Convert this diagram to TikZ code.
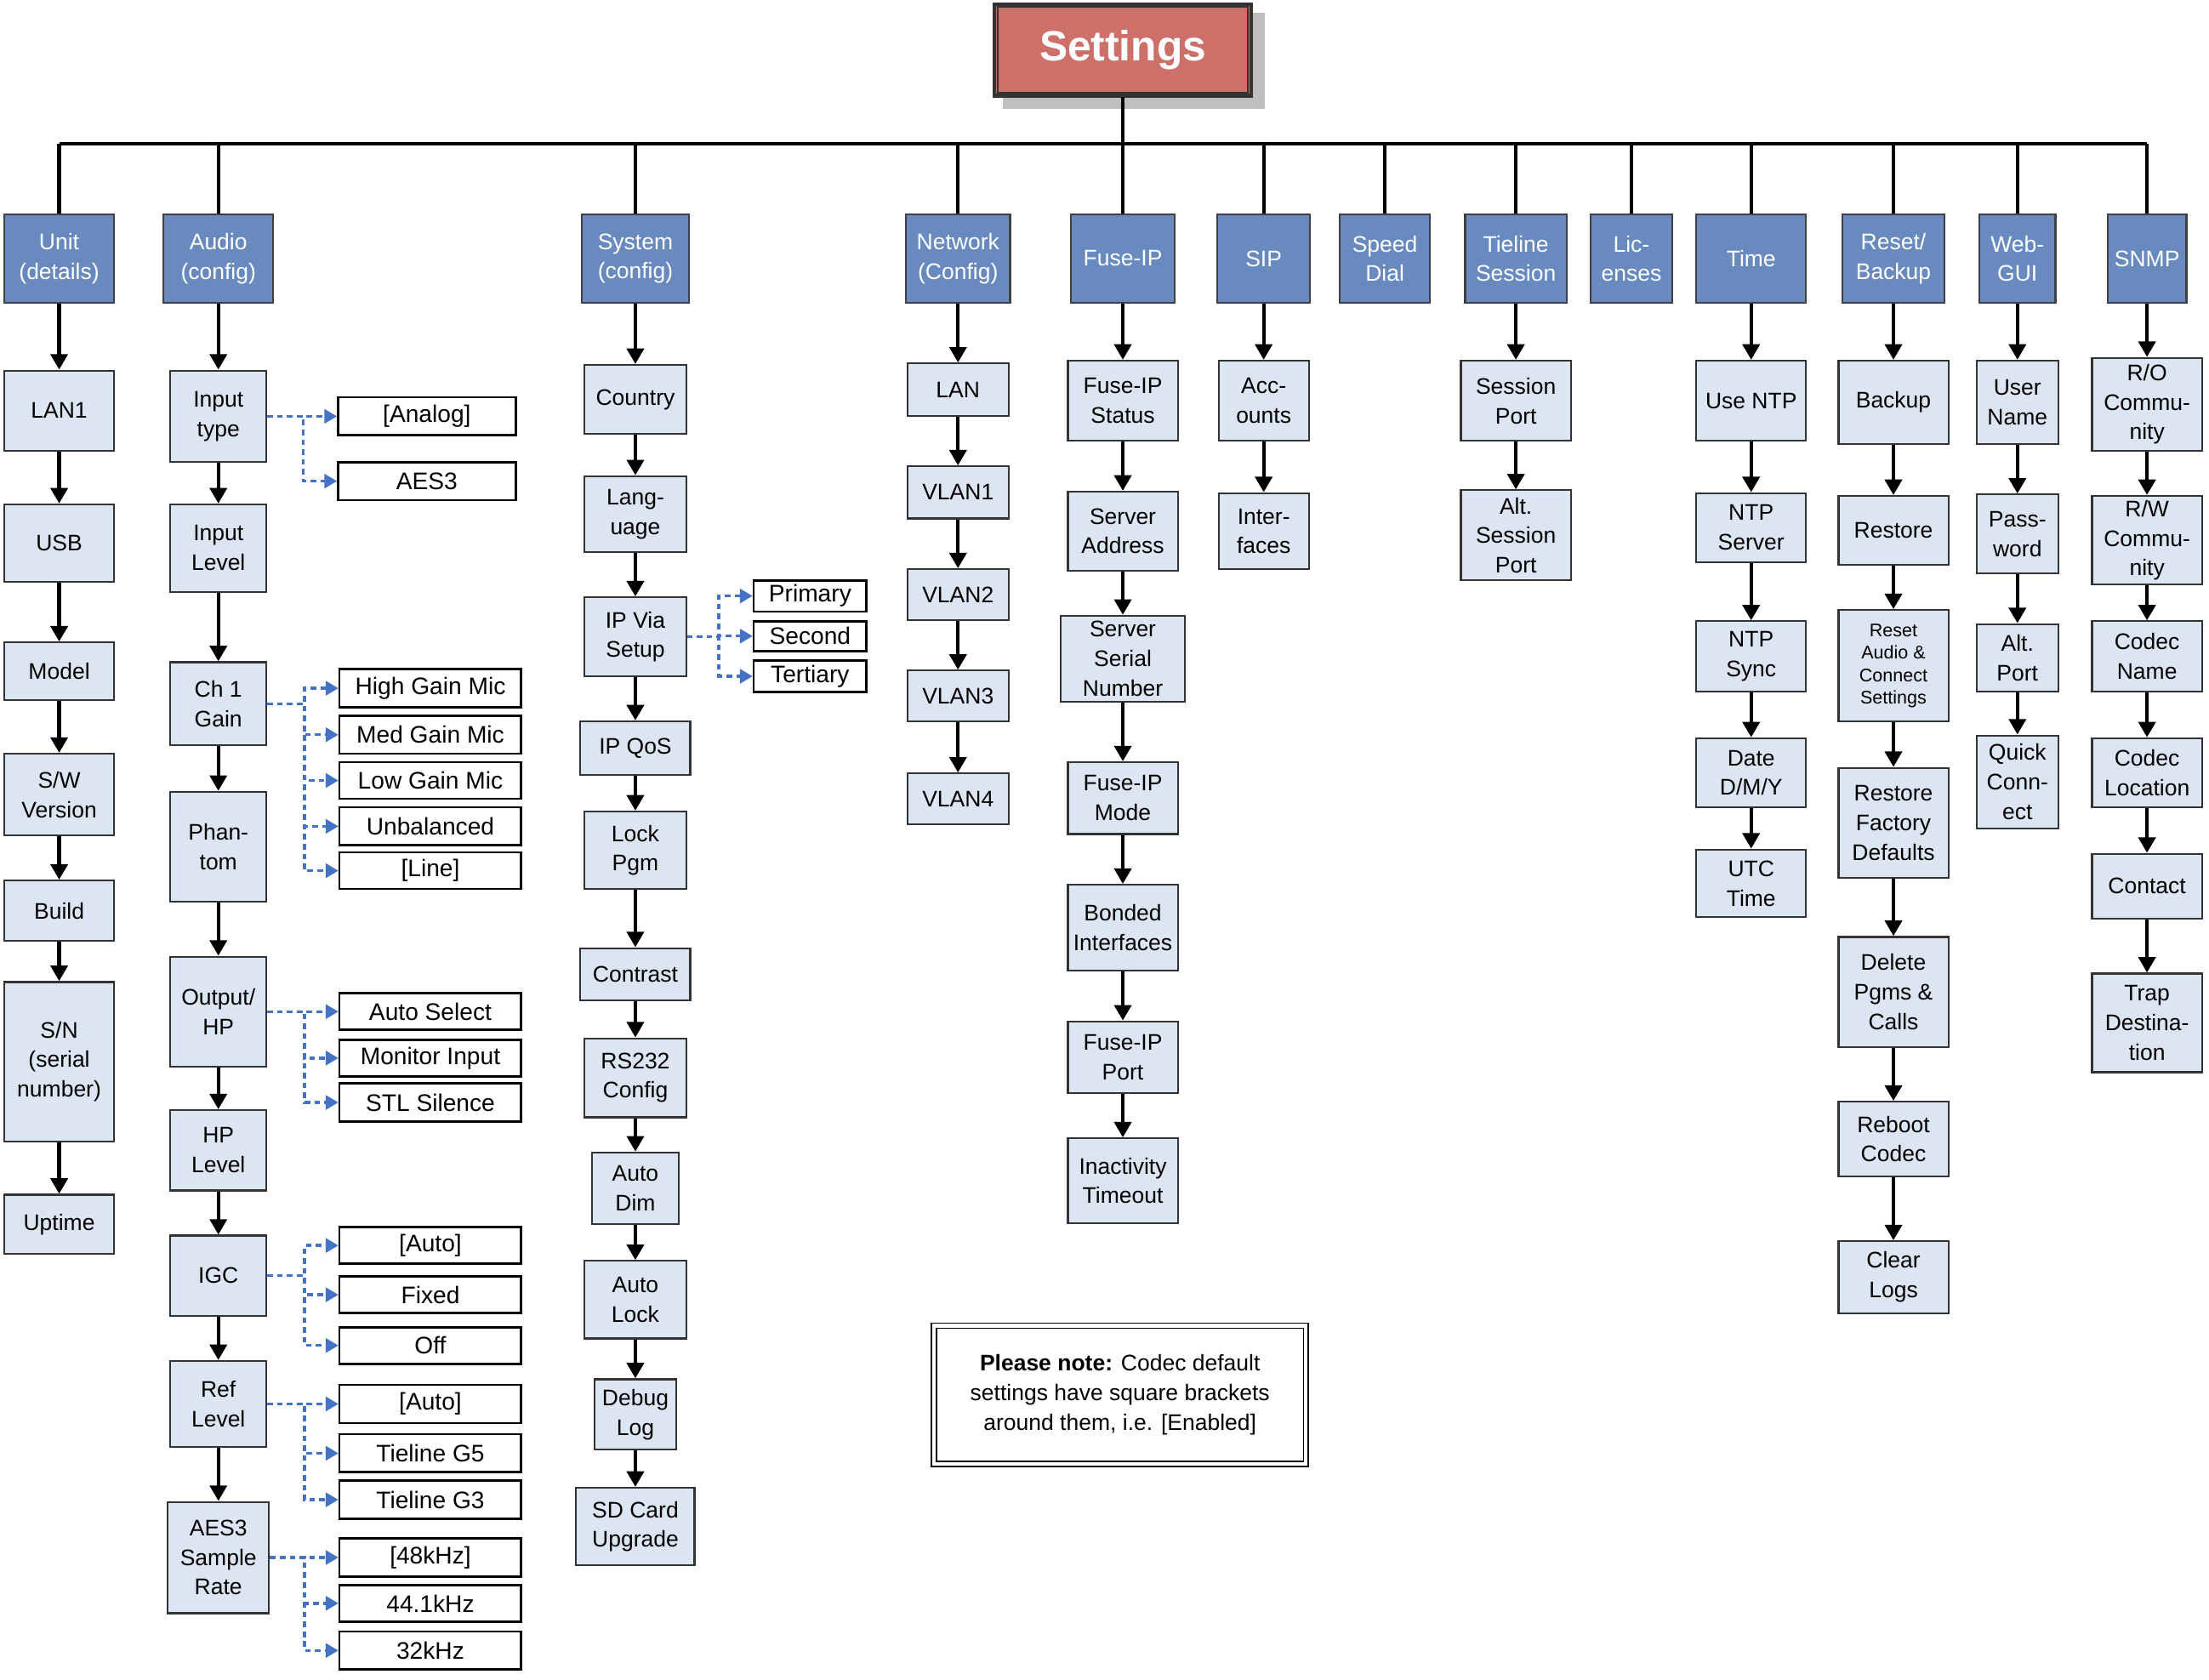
\documentclass[tikz,border=0pt]{standalone}
\usepackage{fontspec}
\setmainfont{Liberation Sans}
\usetikzlibrary{arrows.meta,calc}
\definecolor{hdr}{RGB}{104,138,190}
\definecolor{chd}{RGB}{220,230,242}
\definecolor{red1}{RGB}{205,112,105}
\definecolor{dblue}{RGB}{68,114,196}
\tikzset{
 base/.style={draw, line width=1.3pt, align=center, inner sep=0pt, font=\fontsize{16}{21}\selectfont},
 hd/.style={base, fill=hdr, draw=black!75, text=white},
 cb/.style={base, fill=chd, draw=black!80},
 ob/.style={base, fill=white, draw=black, line width=1.6pt, font=\fontsize{17}{20}\selectfont},
 ar/.style={line width=2.6pt, -{Triangle[length=11pt,width=12pt]}},
 ln/.style={line width=2.6pt},
 dl/.style={dblue, line width=2pt, dash pattern=on 4pt off 3pt, -{Triangle[length=9pt,width=10pt]}},
}
\newcommand\B[7]{\node[#1, minimum width=#4pt, minimum height=#6pt] (#2) at (#3,#5) {#7};}
\begin{document}
\begin{tikzpicture}[x=1pt,y=-1pt]
\useasboundingbox (0,0) rectangle (1568,1192);
% Settings
\fill[black!25] (712,9) rectangle (898,77);
\node[draw=black!80, line width=1.3pt, double=red1, double distance=0pt, fill=red1, minimum width=182pt, minimum height=65pt, text=white, font=\fontsize{30}{32}\selectfont\bfseries] (set) at (797,35.5) {Settings};
\draw[black!80,line width=1.2pt] (708,5) rectangle (886,66);
\draw[ln] (42,102) -- (1524,102);
\draw[ln] (set.south) -- (797,102);
% headers
\B{hd}{h1}{42}{78}{183.5}{63}{Unit\\(details)}
\B{hd}{h2}{155}{78}{183.5}{63}{Audio\\(config)}
\B{hd}{h3}{451}{76}{183.5}{63}{System\\(config)}
\B{hd}{h4}{680}{74}{183.5}{63}{Network\\(Config)}
\B{hd}{h5}{797}{74}{183.5}{63}{Fuse-IP}
\B{hd}{h6}{897}{66}{183.5}{63}{SIP}
\B{hd}{h7}{983}{64}{183.5}{63}{Speed\\Dial}
\B{hd}{h8}{1076}{72}{183.5}{63}{Tieline\\Session}
\B{hd}{h9}{1158}{58}{183.5}{63}{Lic-\\enses}
\B{hd}{h10}{1243}{78}{183.5}{63}{Time}
\B{hd}{h11}{1344}{72}{183.5}{63}{Reset/\\Backup}
\B{hd}{h12}{1432}{54}{183.5}{63}{Web-\\GUI}
\B{hd}{h13}{1524}{56}{183.5}{63}{SNMP}
\foreach \h/\x in {h1/42,h2/155,h3/451,h4/680,h5/797,h6/897,h7/983,h8/1076,h9/1158,h10/1243,h11/1344,h12/1432,h13/1524}
  \draw[ln] (\h.north) -- (\x,102);
% Unit
\B{cb}{u1}{42}{78}{291.5}{57}{LAN1}
\B{cb}{u2}{42}{78}{385.5}{55}{USB}
\B{cb}{u3}{42}{78}{476.5}{41}{Model}
\B{cb}{u4}{42}{78}{564}{58}{S/W\\Version}
\B{cb}{u5}{42}{78}{646.5}{43}{Build}
\B{cb}{u6}{42}{78}{753.5}{113}{S/N\\(serial\\number)}
\B{cb}{u7}{42}{78}{869}{42}{Uptime}
\foreach \a/\b in {h1/u1,u1/u2,u2/u3,u3/u4,u4/u5,u5/u6,u6/u7} \draw[ar] (\a.south) -- (\b.north);
% Audio
\begin{scope}[every node/.append style={font=\fontsize{19}{24}\selectfont}]
\B{cb}{a1}{155}{68}{295.5}{65}{Input\\type}
\B{cb}{a2}{155}{68}{389}{62}{Input\\Level}
\B{cb}{a3}{155}{68}{499.5}{59}{Ch 1\\Gain}
\B{cb}{a4}{155}{68}{601}{78}{Phan-\\tom}
\B{cb}{a5}{155}{68}{718}{78}{Output/\\HP}
\B{cb}{a6}{155}{68}{816.5}{57}{HP\\Level}
\B{cb}{a7}{155}{68}{905.5}{57}{IGC}
\B{cb}{a8}{155}{68}{996.5}{61}{Ref\\Level}
\B{cb}{a9}{155}{72}{1105.5}{79}{AES3\\Sample\\Rate}
\end{scope}
\foreach \a/\b in {h2/a1,a1/a2,a2/a3,a3/a4,a4/a5,a5/a6,a6/a7,a7/a8,a8/a9} \draw[ar] (\a.south) -- (\b.north);
\B{ob}{o1}{303}{126}{295.5}{27}{[Analog]}
\B{ob}{o2}{303}{126}{341.5}{27}{AES3}
\B{ob}{o3}{305.5}{129}{488.5}{27}{High Gain Mic}
\B{ob}{o4}{305.5}{129}{521.5}{27}{Med Gain Mic}
\B{ob}{o5}{305.5}{129}{554}{26}{Low Gain Mic}
\B{ob}{o6}{305.5}{129}{586.5}{27}{Unbalanced}
\B{ob}{o7}{305.5}{129}{618}{26}{[Line]}
\B{ob}{o8}{305.5}{129}{718}{26}{Auto Select}
\B{ob}{o9}{305.5}{129}{751}{26}{Monitor Input}
\B{ob}{o10}{305.5}{129}{782.5}{27}{STL Silence}
\B{ob}{o11}{305.5}{129}{884}{26}{[Auto]}
\B{ob}{o12}{305.5}{129}{919}{26}{Fixed}
\B{ob}{o13}{305.5}{129}{955}{26}{Off}
\B{ob}{o14}{305.5}{129}{996.5}{27}{[Auto]}
\B{ob}{o15}{305.5}{129}{1031.5}{27}{Tieline G5}
\B{ob}{o16}{305.5}{129}{1064.5}{27}{Tieline G3}
\B{ob}{o17}{305.5}{129}{1105.5}{27}{[48kHz]}
\B{ob}{o18}{305.5}{129}{1138}{26}{44.1kHz}
\B{ob}{o19}{305.5}{129}{1171.5}{27}{32kHz}
\foreach \p/\o in {a1/o1,a1/o2,a3/o3,a3/o4,a3/o5,a3/o6,a3/o7,a5/o8,a5/o9,a5/o10,a7/o11,a7/o12,a7/o13,a8/o14,a8/o15,a8/o16,a9/o17,a9/o18,a9/o19}
  \draw[dl] (\p.east) -| ($(\o.west)+(-24,0)$) -- (\o.west);
% System
\B{cb}{s1}{451}{72}{283.5}{49}{Country}
\B{cb}{s2}{451}{72}{365}{54}{Lang-\\uage}
\B{cb}{s3}{451}{72}{452}{56}{IP Via\\Setup}
\B{cb}{s4}{451}{78}{531}{38}{IP QoS}
\B{cb}{s5}{451}{72}{603.5}{55}{Lock\\Pgm}
\B{cb}{s6}{451}{78}{691.5}{37}{Contrast}
\B{cb}{s7}{451}{72}{765}{56}{RS232\\Config}
\B{cb}{s8}{451}{62}{843.5}{51}{Auto\\Dim}
\B{cb}{s9}{451}{72}{922.5}{55}{Auto\\Lock}
\B{cb}{s10}{451}{58}{1004}{50}{Debug\\Log}
\B{cb}{s11}{451}{84}{1083.5}{55}{SD Card\\Upgrade}
\foreach \a/\b in {h3/s1,s1/s2,s2/s3,s3/s4,s4/s5,s5/s6,s6/s7,s7/s8,s8/s9,s9/s10,s10/s11} \draw[ar] (\a.south) -- (\b.north);
\B{ob}{p1}{575}{80}{423}{22}{Primary}
\B{ob}{p2}{575}{80}{451.5}{21}{Second}
\B{ob}{p3}{575}{80}{480}{22}{Tertiary}
\foreach \o in {p1,p2,p3} \draw[dl] (s3.east) -| ($(\o.west)+(-24,0)$) -- (\o.west);
% Network
\B{cb}{n1}{680}{72}{276.5}{37}{LAN}
\B{cb}{n2}{680}{72}{349.5}{37}{VLAN1}
\B{cb}{n3}{680}{72}{422}{36}{VLAN2}
\B{cb}{n4}{680}{72}{494}{36}{VLAN3}
\B{cb}{n5}{680}{72}{567}{36}{VLAN4}
\foreach \a/\b in {h4/n1,n1/n2,n2/n3,n3/n4,n4/n5} \draw[ar] (\a.south) -- (\b.north);
% Fuse-IP
\B{cb}{f1}{797}{78}{284.5}{57}{Fuse-IP\\Status}
\B{cb}{f2}{797}{78}{377}{56}{Server\\Address}
\B{cb}{f3}{797}{88}{467.5}{61}{Server\\Serial\\Number}
\B{cb}{f4}{797}{78}{566.5}{51}{Fuse-IP\\Mode}
\B{cb}{f5}{797}{78}{658.5}{61}{Bonded\\Interfaces}
\B{cb}{f6}{797}{78}{750.5}{51}{Fuse-IP\\Port}
\B{cb}{f7}{797}{78}{838}{60}{Inactivity\\Timeout}
\foreach \a/\b in {h5/f1,f1/f2,f2/f3,f3/f4,f4/f5,f5/f6,f6/f7} \draw[ar] (\a.south) -- (\b.north);
% SIP
\B{cb}{i1}{897}{64}{284.5}{57}{Acc-\\ounts}
\B{cb}{i2}{897}{64}{377}{54}{Inter-\\faces}
\foreach \a/\b in {h6/i1,i1/i2} \draw[ar] (\a.south) -- (\b.north);
% Tieline
\B{cb}{t1}{1076}{78}{284.5}{57}{Session\\Port}
\B{cb}{t2}{1076}{78}{380}{64}{Alt.\\Session\\Port}
\foreach \a/\b in {h8/t1,t1/t2} \draw[ar] (\a.south) -- (\b.north);
% Time
\B{cb}{m1}{1243}{78}{284.5}{57}{Use NTP}
\B{cb}{m2}{1243}{78}{374.5}{49}{NTP\\Server}
\B{cb}{m3}{1243}{78}{466}{50}{NTP\\Sync}
\B{cb}{m4}{1243}{78}{548.5}{49}{Date\\D/M/Y}
\B{cb}{m5}{1243}{78}{627}{48}{UTC\\Time}
\foreach \a/\b in {h10/m1,m1/m2,m2/m3,m3/m4,m4/m5} \draw[ar] (\a.south) -- (\b.north);
% Reset
\B{cb}{r1}{1344}{78}{285.5}{59}{Backup}
\B{cb}{r2}{1344}{78}{376.5}{49}{Restore}
\node[cb, minimum width=78pt, minimum height=79pt, font=\fontsize{13}{16}\selectfont] (r3) at (1344,472.5) {Reset\\Audio \&\\Connect\\Settings};
\B{cb}{r4}{1344}{78}{584}{78}{Restore\\Factory\\Defaults}
\B{cb}{r5}{1344}{78}{704}{78}{Delete\\Pgms \&\\Calls}
\B{cb}{r6}{1344}{78}{808.5}{53}{Reboot\\Codec}
\B{cb}{r7}{1344}{78}{906.5}{51}{Clear\\Logs}
\foreach \a/\b in {h11/r1,r1/r2,r2/r3,r3/r4,r4/r5,r5/r6,r6/r7} \draw[ar] (\a.south) -- (\b.north);
% Web
\B{cb}{w1}{1432}{58}{285.5}{59}{User\\Name}
\B{cb}{w2}{1432}{58}{379}{56}{Pass-\\word}
\B{cb}{w3}{1432}{58}{467}{48}{Alt.\\Port}
\B{cb}{w4}{1432}{58}{555}{66}{Quick\\Conn-\\ect}
\foreach \a/\b in {h12/w1,w1/w2,w2/w3,w3/w4} \draw[ar] (\a.south) -- (\b.north);
% SNMP
\B{cb}{q1}{1524}{78}{287}{66}{R/O\\Commu-\\nity}
\B{cb}{q2}{1524}{78}{383.5}{63}{R/W\\Commu-\\nity}
\B{cb}{q3}{1524}{78}{466}{50}{Codec\\Name}
\B{cb}{q4}{1524}{78}{548.5}{49}{Codec\\Location}
\B{cb}{q5}{1524}{78}{629}{46}{Contact}
\B{cb}{q6}{1524}{78}{726}{70}{Trap\\Destina-\\tion}
\foreach \a/\b in {h13/q1,q1/q2,q2/q3,q3/q4,q4/q5,q5/q6} \draw[ar] (\a.south) -- (\b.north);
% note
\node[draw, double, double distance=2.5pt, line width=1pt, minimum width=264pt, minimum height=98pt, align=center, font=\fontsize{16}{21}\selectfont] (note) at (795,990) {\textbf{Please note:} Codec default\\settings have square brackets\\around them, i.e. [Enabled]};
\end{tikzpicture}
\end{document}
